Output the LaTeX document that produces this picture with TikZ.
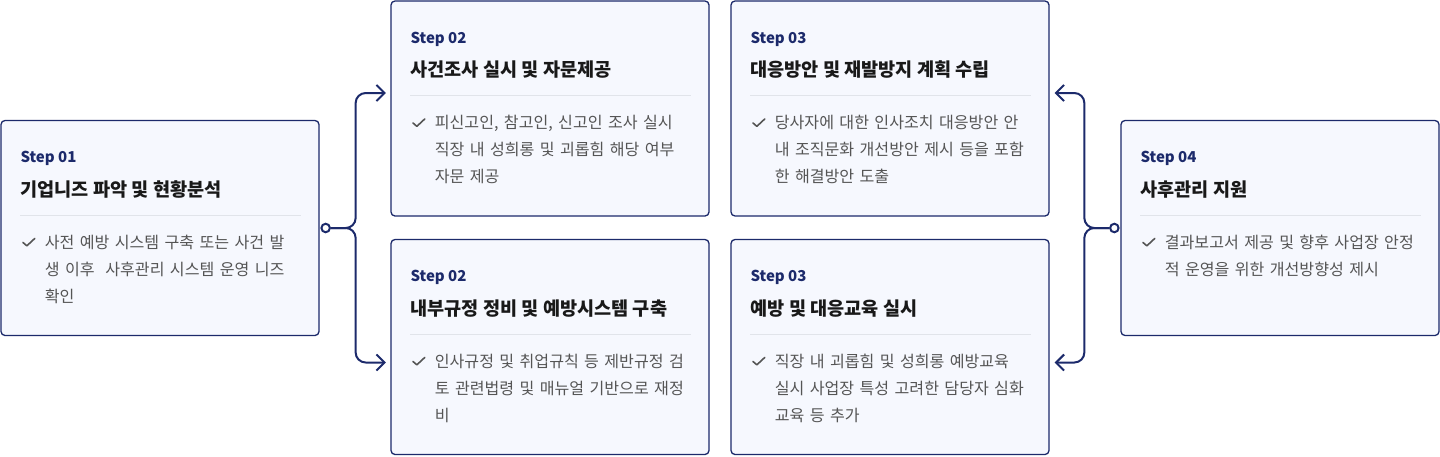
\documentclass[tikz,border=0pt]{standalone}
\usepackage{fontspec}
\setmainfont{Noto Sans CJK KR}
\usetikzlibrary{arrows.meta,positioning}
\definecolor{navy}{HTML}{1C2A6B}
\definecolor{cardfill}{HTML}{F6F8FE}
\definecolor{bodygray}{HTML}{555555}
\definecolor{rulegray}{HTML}{E1E4EA}

% step label, title, rule, tick and body of one card
\newcommand{\stepcard}[4]{%
  \node[steplbl]  at ([xshift=20pt,yshift=-42.7pt]#1.north west) {#2};
  \node[titlelbl] at ([xshift=20pt,yshift=-76.5pt]#1.north west) {#3};
  \draw[seprule] ([xshift=20pt,yshift=-95.5pt]#1.north west) -- ([xshift=-19pt,yshift=-95.5pt]#1.north east);
  \draw[tick] ([xshift=22.5pt,yshift=-122.5pt]#1.north west) -- ++(4pt,-3.5pt) -- ++(8pt,7.5pt);
  \node[bodytxt]  at ([xshift=44.3pt,yshift=-128.5pt]#1.north west) {#4};
}

\begin{document}
\begin{tikzpicture}[x=1pt,y=-1pt,
    card/.style={draw=navy,fill=cardfill,line width=1.3pt,rounded corners=4pt,
      minimum width=318pt,minimum height=215pt,inner sep=0pt},
    steplbl/.style={anchor=base west,inner sep=0pt,text=navy,font=\bfseries\fontsize{15pt}{18pt}\selectfont},
    titlelbl/.style={anchor=base west,inner sep=0pt,text=black!90,font=\bfseries\fontsize{18.6pt}{22pt}\selectfont},
    bodytxt/.style={anchor=base west,inner sep=0pt,text=bodygray,text width=290pt,align=left,
      font=\fontsize{16.1pt}{27pt}\selectfont},
    seprule/.style={draw=rulegray,line width=1pt},
    tick/.style={draw=bodygray,line width=1.6pt,line cap=round,line join=round},
    dot/.style={circle,draw=navy,fill=white,line width=2pt,minimum size=8.5pt,inner sep=0pt},
    link/.style={draw=navy,line width=2pt,rounded corners=10pt,-{Straight Barb[length=8pt,width=16pt]}}]
  \useasboundingbox (0,0) rectangle (1440,456);

  \node[card] (s1)  at (160,228)   {};
  \node[card] (s2a) at (550,108.5) {};
  \node[card] (s2b) at (550,347)   {};
  \node[card] (s3a) at (890,108.5) {};
  \node[card] (s3b) at (890,347)   {};
  \node[card] (s4)  at (1280,228)  {};

  \stepcard{s1}{Step 01}{기업니즈 파악 및 현황분석}
    {사전 예방 시스템 구축 또는 사건 발\\생 이후\ \ 사후관리 시스템 운영 니즈\\확인}
  \stepcard{s2a}{Step 02}{사건조사 실시 및 자문제공}
    {피신고인, 참고인, 신고인 조사 실시\\직장 내 성희롱 및 괴롭힘 해당 여부\\자문 제공}
  \stepcard{s2b}{Step 02}{내부규정 정비 및 예방시스템 구축}
    {인사규정 및 취업규칙 등 제반규정 검\\토 관련법령 및 매뉴얼 기반으로 재정\\비}
  \stepcard{s3a}{Step 03}{대응방안 및 재발방지 계획 수립}
    {당사자에 대한 인사조치 대응방안 안\\내 조직문화 개선방안 제시 등을 포함\\한 해결방안 도출}
  \stepcard{s3b}{Step 03}{예방 및 대응교육 실시}
    {직장 내 괴롭힘 및 성희롱 예방교육\\실시 사업장 특성 고려한 담당자 심화\\교육 등 추가}
  \stepcard{s4}{Step 04}{사후관리 지원}
    {결과보고서 제공 및 향후 사업장 안정\\적 운영을 위한 개선방향성 제시}

  % branching connectors
  \node[dot] (d1) at ([xshift=6pt]s1.east)  {};
  \node[dot] (d4) at ([xshift=-6pt]s4.west) {};
  \coordinate (j1) at ([xshift=36pt]s1.east);
  \coordinate (j4) at ([xshift=-36pt]s4.west);
  \coordinate (t2a) at ([xshift=-4.5pt,yshift=15.5pt]s2a.west);
  \coordinate (t2b) at ([xshift=-4.5pt,yshift=-15.5pt]s2b.west);
  \coordinate (t3a) at ([xshift=5pt,yshift=15.5pt]s3a.east);
  \coordinate (t3b) at ([xshift=5pt,yshift=-15.5pt]s3b.east);

  \draw[link] (d1) -- (j1) |- (t2a);
  \draw[link] (d1) -- (j1) |- (t2b);
  \draw[link] (d4) -- (j4) |- (t3a);
  \draw[link] (d4) -- (j4) |- (t3b);
\end{tikzpicture}
\end{document}
